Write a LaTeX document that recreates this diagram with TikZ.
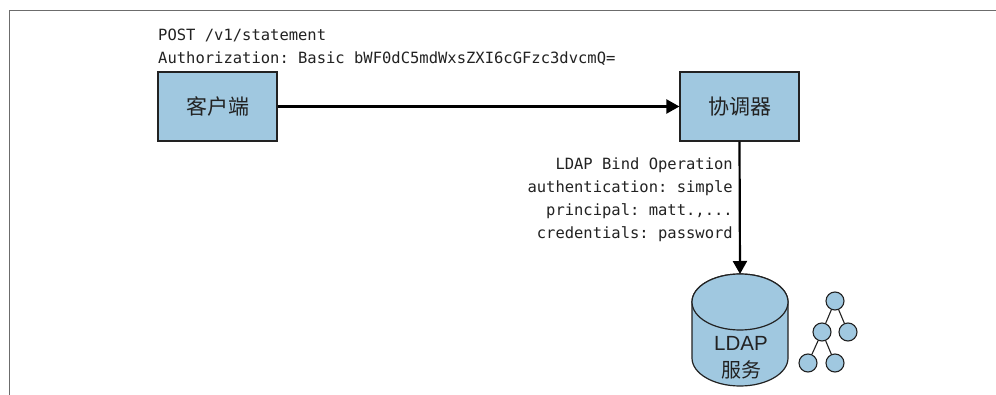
\documentclass[tikz,border=0pt]{standalone}
\usepackage{fontspec}
\setmainfont{Liberation Sans}
\setmonofont{DejaVu Sans Mono}
\newfontfamily\cjk{Noto Sans CJK SC}
\usetikzlibrary{arrows.meta}
\definecolor{boxblue}{HTML}{A0C8E0}
\definecolor{ink}{HTML}{222222}
\tikzset{
  boxnode/.style={draw=ink,line width=1.2pt,fill=boxblue,minimum width=119pt,minimum height=69pt,inner sep=0pt,text=ink,font=\cjk\fontsize{21}{24}\selectfont},
  codetext/.style={inner sep=0pt,text=ink,font=\ttfamily\fontsize{15.5}{23}\selectfont},
  conn/.style={line width=2.2pt,black,-{Triangle[length=13pt,width=14pt]},shorten >=0pt},
  treenode/.style={circle,draw=ink,line width=1.1pt,fill=boxblue,minimum size=18pt,inner sep=0pt},
  treeedge/.style={draw=ink,line width=1.1pt},
  cyl/.style={draw=ink,line width=1.2pt,fill=boxblue},
}
\begin{document}
\begin{tikzpicture}[x=1pt,y=-1pt]
\useasboundingbox (0,0) rectangle (996,395);
\fill[white] (0,0) rectangle (996,395);
\draw[gray!85!black,line width=1.4pt] (9.5,395) -- (9.5,10.5) -- (996,10.5);

\node[codetext,anchor=north west,align=left] (req) at (158,29) {POST /v1/statement\\Authorization: Basic bWF0dC5mdWxsZXI6cGFzc3dvcmQ=};
\node[boxnode] (client) at (217.5,106.5) {客户端};
\node[boxnode] (coord) at (739.5,106.5) {协调器};
\node[codetext,anchor=north east,align=right] (bind) at (733,158) {LDAP Bind Operation\\authentication: simple\\principal: matt.,...\\credentials: password};

% LDAP cylinder
\path[cyl] (692,302) -- (692,358) arc[start angle=180,end angle=0,x radius=48,y radius=28] -- (788,302) arc[start angle=0,end angle=-180,x radius=48,y radius=28] -- cycle;
\path[cyl] (740,302) ellipse[x radius=48,y radius=28];
\node[inner sep=0pt,minimum width=96pt,minimum height=112pt,anchor=north] (ldap) at (740,274) {};
\node[inner sep=0pt,text=ink] (ldaptext) at (741,343.5) {\fontsize{20.5}{22}\selectfont LDAP};
\node[inner sep=0pt,text=ink] (ldaptextb) at (741,370) {\cjk\fontsize{20}{22}\selectfont 服务};

% tree
\node[treenode] (t1) at (835,301) {};
\node[treenode] (t2) at (822,332) {};
\node[treenode] (t3) at (848,332) {};
\node[treenode] (t4) at (808,363) {};
\node[treenode] (t5) at (835,363) {};
\draw[treeedge] (t1) -- (t2);
\draw[treeedge] (t1) -- (t3);
\draw[treeedge] (t2) -- (t4);
\draw[treeedge] (t2) -- (t5);

\draw[conn] (client.east) -- (coord.west);
\draw[conn] (coord.south) -- (ldap.north);
\end{tikzpicture}
\end{document}
